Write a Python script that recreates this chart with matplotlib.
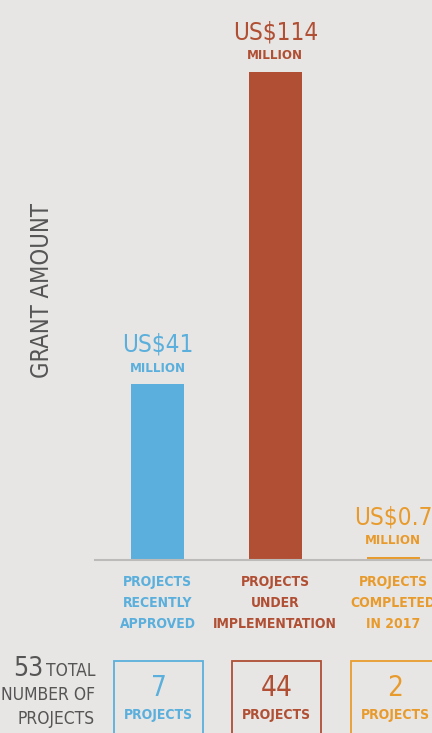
import matplotlib
matplotlib.use("Agg")
import matplotlib.pyplot as plt
from matplotlib import font_manager
from matplotlib.patches import Rectangle

categories = ["PROJECTS\nRECENTLY\nAPPROVED", "PROJECTS\nUNDER\nIMPLEMENTATION", "PROJECTS\nCOMPLETED\nIN 2017"]
grant_musd = [41, 114, 0.7]
value_labels = ["US$41", "US$114", "US$0.7"]
project_counts = [7, 44, 2]
total_projects = 53

colors = ["#5aafdc", "#b04f33", "#e89b2d"]
bg = "#e8e6e4"
grey = "#555555"

# prefer a narrow face if one is installed, otherwise shrink the type
narrow = None
for name in ["Liberation Sans Narrow", "DejaVu Sans"]:
    try:
        path = font_manager.findfont(font_manager.FontProperties(family=name, stretch="condensed"),
                                     fallback_to_default=False)
    except ValueError:
        continue
    if "Narrow" in path or "Condensed" in path:
        narrow = name
        break
fams = [narrow, "DejaVu Sans"] if narrow else ["DejaVu Sans"]
plt.rcParams["font.family"] = fams
plt.rcParams["font.stretch"] = "condensed"
k = 1.0 if narrow else 0.9

W, H = 432, 733
fig = plt.figure(figsize=(W / 100, H / 100), dpi=100, facecolor=bg)


def fx(px):
    return px / W


def fy(py):
    return 1 - py / H


# main bar axes: baseline at y=560 px, tallest bar reaches y=72 px
ax = fig.add_axes([fx(95), fy(560), fx(W - 95), (560 - 72) / H])
ax.set_facecolor(bg)
x = list(range(len(grant_musd)))
ax.bar(x, grant_musd, width=0.45, color=colors, zorder=2)
ax.set_xlim(-0.53, 2.33)
ax.set_ylim(0, max(grant_musd))
for s in ["top", "right", "left"]:
    ax.spines[s].set_visible(False)
ax.spines["bottom"].set_color("#bdbbb9")
ax.spines["bottom"].set_linewidth(1.5)
ax.set_xticks([])
ax.set_yticks([])

for xi, v, lab, c in zip(x, grant_musd, value_labels, colors):
    ax.annotate("MILLION", (xi, v), xytext=(0, 7), textcoords="offset points",
                ha="center", va="bottom", fontsize=9.5 * k, fontweight="bold", color=c,
                annotation_clip=False)
    ax.annotate(lab, (xi, v), xytext=(0, 20), textcoords="offset points",
                ha="center", va="bottom", fontsize=17.5 * k, fontweight="light", color=c,
                annotation_clip=False)

# category labels under the baseline
for xi, cat, c in zip(x, categories, colors):
    ax.text(xi, -0.03, cat, transform=ax.get_xaxis_transform(), ha="center", va="top",
            fontsize=10 * k, fontweight="bold", color=c, linespacing=1.65)

fig.text(fx(42), fy(291), "GRANT AMOUNT", rotation=90, ha="center", va="center",
         fontsize=17 * k, fontweight="light", color=grey)

# project count boxes
box_left = [114, 232, 351]
for bx, n, c in zip(box_left, project_counts, colors):
    fig.patches.append(Rectangle((fx(bx), fy(740)), fx(89), (740 - 661) / H,
                                 transform=fig.transFigure, fill=False,
                                 edgecolor=c, linewidth=1.3))
    fig.text(fx(bx + 44.5), fy(688), str(n), ha="center", va="center",
             fontsize=20 * k, fontweight="light", color=c)
    fig.text(fx(bx + 44.5), fy(715), "PROJECTS", ha="center", va="center",
             fontsize=10 * k, fontweight="bold", color=c)

fig.text(fx(95), fy(671), "TOTAL", ha="right", va="center", fontsize=12.5 * k, color=grey)
fig.text(fx(43), fy(669), f"{total_projects}", ha="right", va="center",
         fontsize=19 * k, fontweight="light", color=grey)
fig.text(fx(95), fy(695), "NUMBER OF", ha="right", va="center", fontsize=12.5 * k, color=grey)
fig.text(fx(95), fy(719), "PROJECTS", ha="right", va="center", fontsize=12.5 * k, color=grey)

fig.savefig("out.png", dpi=100, facecolor=bg)
